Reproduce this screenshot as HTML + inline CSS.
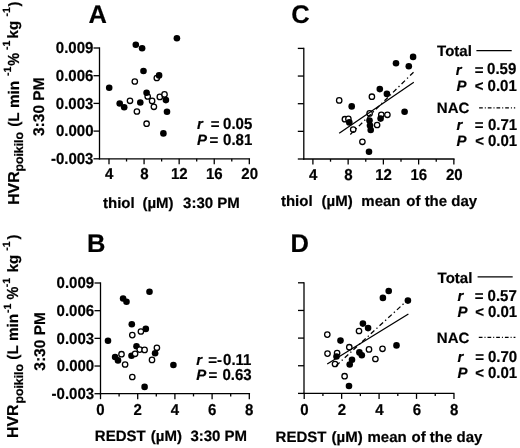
<!DOCTYPE html>
<html><head><meta charset="utf-8"><style>
html,body{margin:0;padding:0;background:#fff;}
svg{display:block;will-change:transform;}
text{font-family:"Liberation Sans", sans-serif;font-weight:bold;fill:#000;text-rendering:geometricPrecision;stroke:#000;stroke-width:0.2px;stroke-linejoin:round;}
</style></head><body>
<svg width="520" height="448" viewBox="0 0 520 448">
<rect width="520" height="448" fill="#fff"/>
<text transform="translate(88.40,23.10) scale(1.0,1)" font-size="25.5">A</text>
<line x1="99.50" y1="47.35" x2="99.50" y2="159.45" stroke="#000" stroke-width="1.3" />
<line x1="93.50" y1="48.00" x2="99.50" y2="48.00" stroke="#000" stroke-width="1.3" />
<text transform="translate(55.85,53.26) scale(0.95,1)" font-size="15.8">0.009</text>
<line x1="93.50" y1="75.70" x2="99.50" y2="75.70" stroke="#000" stroke-width="1.3" />
<text transform="translate(55.85,80.96) scale(0.95,1)" font-size="15.8">0.006</text>
<line x1="93.50" y1="103.40" x2="99.50" y2="103.40" stroke="#000" stroke-width="1.3" />
<text transform="translate(55.85,108.66) scale(0.95,1)" font-size="15.8">0.003</text>
<line x1="93.50" y1="131.10" x2="99.50" y2="131.10" stroke="#000" stroke-width="1.3" />
<text transform="translate(55.95,136.36) scale(0.95,1)" font-size="15.8">0.000</text>
<line x1="93.50" y1="158.80" x2="99.50" y2="158.80" stroke="#000" stroke-width="1.3" />
<text transform="translate(50.91,164.06) scale(0.95,1)" font-size="15.8">-0.003</text>
<line x1="98.85" y1="158.80" x2="250.05" y2="158.80" stroke="#000" stroke-width="1.3" />
<line x1="109.00" y1="158.80" x2="109.00" y2="164.30" stroke="#000" stroke-width="1.3" />
<line x1="126.54" y1="158.80" x2="126.54" y2="161.50" stroke="#000" stroke-width="1.3" />
<line x1="144.08" y1="158.80" x2="144.08" y2="164.30" stroke="#000" stroke-width="1.3" />
<line x1="161.62" y1="158.80" x2="161.62" y2="161.50" stroke="#000" stroke-width="1.3" />
<line x1="179.16" y1="158.80" x2="179.16" y2="164.30" stroke="#000" stroke-width="1.3" />
<line x1="196.70" y1="158.80" x2="196.70" y2="161.50" stroke="#000" stroke-width="1.3" />
<line x1="214.24" y1="158.80" x2="214.24" y2="164.30" stroke="#000" stroke-width="1.3" />
<line x1="231.78" y1="158.80" x2="231.78" y2="161.50" stroke="#000" stroke-width="1.3" />
<line x1="249.32" y1="158.80" x2="249.32" y2="164.30" stroke="#000" stroke-width="1.3" />
<text transform="translate(105.07,179.30) scale(0.95,1)" font-size="15.8">4</text>
<text transform="translate(140.20,179.30) scale(0.95,1)" font-size="15.8">8</text>
<text transform="translate(170.91,179.30) scale(0.95,1)" font-size="15.8">12</text>
<text transform="translate(205.99,179.30) scale(0.95,1)" font-size="15.8">16</text>
<text transform="translate(241.36,179.30) scale(0.95,1)" font-size="15.8">20</text>
<text transform="translate(103.00,207.70) scale(1.0,1)" font-size="15.0">thiol</text>
<text transform="translate(142.40,207.70) scale(1.0,1)" font-size="15.0">(µM)</text>
<text transform="translate(183.10,207.70) scale(1.0,1)" font-size="15.0">3:30&#160;PM</text>
<text transform="translate(197.10,129.20) scale(1.0,1)" font-size="15.0" font-style="italic">r</text>
<text transform="translate(210.70,129.20) scale(1.0,1)" font-size="15.0">=</text>
<text transform="translate(223.03,129.20) scale(0.95,1)" font-size="15.8">0.05</text>
<text transform="translate(197.10,145.40) scale(1.0,1)" font-size="15.0" font-style="italic">P</text>
<text transform="translate(209.60,145.40) scale(1.0,1)" font-size="15.0">=</text>
<text transform="translate(223.03,145.40) scale(0.95,1)" font-size="15.8">0.81</text>
<circle cx="156.8" cy="78" r="2.7" fill="#fff" stroke="#000" stroke-width="1.3"/><circle cx="134.8" cy="81.5" r="2.7" fill="#fff" stroke="#000" stroke-width="1.3"/><circle cx="147.7" cy="96.5" r="2.7" fill="#fff" stroke="#000" stroke-width="1.3"/><circle cx="130" cy="100.8" r="2.7" fill="#fff" stroke="#000" stroke-width="1.3"/><circle cx="136.9" cy="111.5" r="2.7" fill="#fff" stroke="#000" stroke-width="1.3"/><circle cx="152.1" cy="100.9" r="2.7" fill="#fff" stroke="#000" stroke-width="1.3"/><circle cx="153.9" cy="106.8" r="2.7" fill="#fff" stroke="#000" stroke-width="1.3"/><circle cx="159.8" cy="96.9" r="2.7" fill="#fff" stroke="#000" stroke-width="1.3"/><circle cx="164.5" cy="94.4" r="2.7" fill="#fff" stroke="#000" stroke-width="1.3"/><circle cx="146.6" cy="123.7" r="2.7" fill="#fff" stroke="#000" stroke-width="1.3"/><circle cx="176.9" cy="38.3" r="3.3" fill="#000"/><circle cx="135.8" cy="44.8" r="3.3" fill="#000"/><circle cx="142.1" cy="48.3" r="3.3" fill="#000"/><circle cx="143.5" cy="71" r="3.3" fill="#000"/><circle cx="159.1" cy="75.4" r="3.3" fill="#000"/><circle cx="109.2" cy="87.7" r="3.3" fill="#000"/><circle cx="146.6" cy="92.8" r="3.3" fill="#000"/><circle cx="119.7" cy="103.5" r="3.3" fill="#000"/><circle cx="124.2" cy="107.2" r="3.3" fill="#000"/><circle cx="140.3" cy="102.5" r="3.3" fill="#000"/><circle cx="165.9" cy="100.1" r="3.3" fill="#000"/><circle cx="167" cy="111.8" r="3.3" fill="#000"/><circle cx="163.4" cy="133.4" r="3.3" fill="#000"/>
<text transform="translate(87.10,252.10) scale(1.0,1)" font-size="25.5">B</text>
<line x1="100.50" y1="282.35" x2="100.50" y2="394.35" stroke="#000" stroke-width="1.3" />
<line x1="94.50" y1="283.00" x2="100.50" y2="283.00" stroke="#000" stroke-width="1.3" />
<text transform="translate(56.55,288.26) scale(0.95,1)" font-size="15.8">0.009</text>
<line x1="94.50" y1="310.68" x2="100.50" y2="310.68" stroke="#000" stroke-width="1.3" />
<text transform="translate(56.55,315.93) scale(0.95,1)" font-size="15.8">0.006</text>
<line x1="94.50" y1="338.35" x2="100.50" y2="338.35" stroke="#000" stroke-width="1.3" />
<text transform="translate(56.55,343.61) scale(0.95,1)" font-size="15.8">0.003</text>
<line x1="94.50" y1="366.02" x2="100.50" y2="366.02" stroke="#000" stroke-width="1.3" />
<text transform="translate(56.64,371.28) scale(0.95,1)" font-size="15.8">0.000</text>
<line x1="94.50" y1="393.70" x2="100.50" y2="393.70" stroke="#000" stroke-width="1.3" />
<text transform="translate(51.61,398.96) scale(0.95,1)" font-size="15.8">-0.003</text>
<line x1="99.85" y1="393.70" x2="250.05" y2="393.70" stroke="#000" stroke-width="1.3" />
<line x1="100.50" y1="393.70" x2="100.50" y2="399.20" stroke="#000" stroke-width="1.3" />
<line x1="119.10" y1="393.70" x2="119.10" y2="396.40" stroke="#000" stroke-width="1.3" />
<line x1="137.70" y1="393.70" x2="137.70" y2="399.20" stroke="#000" stroke-width="1.3" />
<line x1="156.30" y1="393.70" x2="156.30" y2="396.40" stroke="#000" stroke-width="1.3" />
<line x1="174.90" y1="393.70" x2="174.90" y2="399.20" stroke="#000" stroke-width="1.3" />
<line x1="193.50" y1="393.70" x2="193.50" y2="396.40" stroke="#000" stroke-width="1.3" />
<line x1="212.10" y1="393.70" x2="212.10" y2="399.20" stroke="#000" stroke-width="1.3" />
<line x1="230.70" y1="393.70" x2="230.70" y2="396.40" stroke="#000" stroke-width="1.3" />
<line x1="249.30" y1="393.70" x2="249.30" y2="399.20" stroke="#000" stroke-width="1.3" />
<text transform="translate(96.37,415.30) scale(0.95,1)" font-size="15.8">0</text>
<text transform="translate(133.57,415.30) scale(0.95,1)" font-size="15.8">2</text>
<text transform="translate(170.67,415.30) scale(0.95,1)" font-size="15.8">4</text>
<text transform="translate(207.92,415.30) scale(0.95,1)" font-size="15.8">6</text>
<text transform="translate(245.12,415.30) scale(0.95,1)" font-size="15.8">8</text>
<text transform="translate(94.80,441.20) scale(1.0,1)" font-size="15.0">REDST</text>
<text transform="translate(150.80,441.20) scale(1.0,1)" font-size="15.0">(µM)</text>
<text transform="translate(190.40,441.20) scale(1.0,1)" font-size="15.0">3:30&#160;PM</text>
<text transform="translate(196.20,364.90) scale(1.0,1)" font-size="15.0" font-style="italic">r</text>
<text transform="translate(208.20,364.90) scale(1.0,1)" font-size="15.0">=</text>
<text transform="translate(217.00,364.90) scale(1.0,1)" font-size="15.0">-</text>
<text transform="translate(223.03,364.90) scale(0.95,1)" font-size="15.8">0.11</text>
<text transform="translate(196.20,380.40) scale(1.0,1)" font-size="15.0" font-style="italic">P</text>
<text transform="translate(208.60,380.40) scale(1.0,1)" font-size="15.0">=</text>
<text transform="translate(222.43,380.40) scale(0.95,1)" font-size="15.8">0.63</text>
<circle cx="149.5" cy="291.8" r="3.3" fill="#000"/><circle cx="123.1" cy="298.5" r="3.3" fill="#000"/><circle cx="126.5" cy="301.8" r="3.3" fill="#000"/><circle cx="131.8" cy="324.3" r="3.3" fill="#000"/><circle cx="145.8" cy="328.9" r="3.3" fill="#000"/><circle cx="108" cy="340.8" r="3.3" fill="#000"/><circle cx="136.5" cy="346.2" r="3.3" fill="#000"/><circle cx="155.1" cy="353.2" r="3.3" fill="#000"/><circle cx="131.5" cy="355.8" r="3.3" fill="#000"/><circle cx="115.1" cy="357" r="3.3" fill="#000"/><circle cx="118" cy="360.4" r="3.3" fill="#000"/><circle cx="173.4" cy="365" r="3.3" fill="#000"/><circle cx="144.6" cy="386.9" r="3.3" fill="#000"/><circle cx="140.9" cy="331.5" r="2.7" fill="#fff" stroke="#000" stroke-width="1.3"/><circle cx="132.3" cy="335.1" r="2.7" fill="#fff" stroke="#000" stroke-width="1.3"/><circle cx="139.7" cy="349.6" r="2.7" fill="#fff" stroke="#000" stroke-width="1.3"/><circle cx="144.6" cy="349.9" r="2.7" fill="#fff" stroke="#000" stroke-width="1.3"/><circle cx="156.9" cy="347.8" r="2.7" fill="#fff" stroke="#000" stroke-width="1.3"/><circle cx="135.1" cy="353.8" r="2.7" fill="#fff" stroke="#000" stroke-width="1.3"/><circle cx="121.5" cy="354.2" r="2.7" fill="#fff" stroke="#000" stroke-width="1.3"/><circle cx="125.1" cy="364.5" r="2.7" fill="#fff" stroke="#000" stroke-width="1.3"/><circle cx="152" cy="359.9" r="2.7" fill="#fff" stroke="#000" stroke-width="1.3"/><circle cx="132.3" cy="377" r="2.7" fill="#fff" stroke="#000" stroke-width="1.3"/>
<text transform="translate(291.30,23.10) scale(1.0,1)" font-size="25.5">C</text>
<line x1="303.80" y1="47.75" x2="303.80" y2="159.65" stroke="#000" stroke-width="1.3" />
<line x1="297.80" y1="48.40" x2="303.80" y2="48.40" stroke="#000" stroke-width="1.3" />
<line x1="297.80" y1="76.05" x2="303.80" y2="76.05" stroke="#000" stroke-width="1.3" />
<line x1="297.80" y1="103.70" x2="303.80" y2="103.70" stroke="#000" stroke-width="1.3" />
<line x1="297.80" y1="131.35" x2="303.80" y2="131.35" stroke="#000" stroke-width="1.3" />
<line x1="297.80" y1="159.00" x2="303.80" y2="159.00" stroke="#000" stroke-width="1.3" />
<line x1="303.15" y1="159.00" x2="454.55" y2="159.00" stroke="#000" stroke-width="1.3" />
<line x1="312.90" y1="159.00" x2="312.90" y2="164.50" stroke="#000" stroke-width="1.3" />
<line x1="330.52" y1="159.00" x2="330.52" y2="161.70" stroke="#000" stroke-width="1.3" />
<line x1="348.14" y1="159.00" x2="348.14" y2="164.50" stroke="#000" stroke-width="1.3" />
<line x1="365.76" y1="159.00" x2="365.76" y2="161.70" stroke="#000" stroke-width="1.3" />
<line x1="383.38" y1="159.00" x2="383.38" y2="164.50" stroke="#000" stroke-width="1.3" />
<line x1="401.00" y1="159.00" x2="401.00" y2="161.70" stroke="#000" stroke-width="1.3" />
<line x1="418.62" y1="159.00" x2="418.62" y2="164.50" stroke="#000" stroke-width="1.3" />
<line x1="436.24" y1="159.00" x2="436.24" y2="161.70" stroke="#000" stroke-width="1.3" />
<line x1="453.86" y1="159.00" x2="453.86" y2="164.50" stroke="#000" stroke-width="1.3" />
<text transform="translate(309.07,179.60) scale(0.95,1)" font-size="15.8">4</text>
<text transform="translate(344.36,179.60) scale(0.95,1)" font-size="15.8">8</text>
<text transform="translate(375.23,179.60) scale(0.95,1)" font-size="15.8">12</text>
<text transform="translate(410.47,179.60) scale(0.95,1)" font-size="15.8">16</text>
<text transform="translate(446.00,179.60) scale(0.95,1)" font-size="15.8">20</text>
<text transform="translate(280.90,206.30) scale(1.0,1)" font-size="15.0">thiol</text>
<text transform="translate(321.50,206.30) scale(1.0,1)" font-size="15.0">(µM)</text>
<text transform="translate(361.30,206.30) scale(1.0,1)" font-size="15.0">mean</text>
<text transform="translate(406.30,206.30) scale(1.0,1)" font-size="15.0">of&#160;the&#160;day</text>
<circle cx="371.9" cy="96.7" r="2.7" fill="#fff" stroke="#000" stroke-width="1.3"/><circle cx="339.2" cy="100.4" r="2.7" fill="#fff" stroke="#000" stroke-width="1.3"/><circle cx="369.6" cy="113.4" r="2.7" fill="#fff" stroke="#000" stroke-width="1.3"/><circle cx="381.3" cy="114.8" r="2.7" fill="#fff" stroke="#000" stroke-width="1.3"/><circle cx="387.4" cy="114.8" r="2.7" fill="#fff" stroke="#000" stroke-width="1.3"/><circle cx="344.9" cy="119.2" r="2.7" fill="#fff" stroke="#000" stroke-width="1.3"/><circle cx="348.4" cy="118.9" r="2.7" fill="#fff" stroke="#000" stroke-width="1.3"/><circle cx="377.1" cy="125" r="2.7" fill="#fff" stroke="#000" stroke-width="1.3"/><circle cx="353.2" cy="129.6" r="2.7" fill="#fff" stroke="#000" stroke-width="1.3"/><circle cx="362.4" cy="141.8" r="2.7" fill="#fff" stroke="#000" stroke-width="1.3"/><circle cx="413.1" cy="56.9" r="3.3" fill="#000"/><circle cx="396" cy="63.3" r="3.3" fill="#000"/><circle cx="408.8" cy="66.3" r="3.3" fill="#000"/><circle cx="379.8" cy="89.1" r="3.3" fill="#000"/><circle cx="386.9" cy="93.9" r="3.3" fill="#000"/><circle cx="351.7" cy="106.4" r="3.3" fill="#000"/><circle cx="404.6" cy="111.7" r="3.3" fill="#000"/><circle cx="380.6" cy="118.6" r="3.3" fill="#000"/><circle cx="349.3" cy="122.4" r="3.3" fill="#000"/><circle cx="369.5" cy="120.6" r="3.3" fill="#000"/><circle cx="370" cy="125.6" r="3.3" fill="#000"/><circle cx="370.7" cy="130" r="3.3" fill="#000"/><circle cx="369" cy="151.7" r="3.3" fill="#000"/>
<line x1="339.20" y1="133.20" x2="413.80" y2="82.30" stroke="#000" stroke-width="1.3" />
<line x1="349.30" y1="135.50" x2="413.80" y2="71.90" stroke="#000" stroke-width="1.3" stroke-dasharray="4.8 2.95 1.3 2.95" stroke-dashoffset="-1.4"/>
<text transform="translate(437.10,56.10) scale(1.0,1)" font-size="15.0">Total</text>
<line x1="476.40" y1="50.70" x2="511.70" y2="50.70" stroke="#000" stroke-width="1.2" />
<text transform="translate(455.70,74.60) scale(1.0,1)" font-size="15.0" font-style="italic">r</text>
<text transform="translate(474.70,74.60) scale(1.0,1)" font-size="15.0">=</text>
<text transform="translate(487.03,74.30) scale(0.95,1)" font-size="15.8">0.59</text>
<text transform="translate(456.50,90.70) scale(1.0,1)" font-size="15.0" font-style="italic">P</text>
<text transform="translate(474.70,90.70) scale(1.0,1)" font-size="15.0">&lt;</text>
<text transform="translate(487.53,90.70) scale(0.95,1)" font-size="15.8">0.01</text>
<text transform="translate(436.80,112.50) scale(1.0,1)" font-size="15.0">NAC</text>
<line x1="479.10" y1="107.90" x2="515.20" y2="107.90" stroke="#000" stroke-width="1.3" stroke-dasharray="3.7 2.0 1 2.0"/>
<text transform="translate(456.50,129.60) scale(1.0,1)" font-size="15.0" font-style="italic">r</text>
<text transform="translate(474.70,129.60) scale(1.0,1)" font-size="15.0">=</text>
<text transform="translate(487.93,129.60) scale(0.95,1)" font-size="15.8">0.71</text>
<text transform="translate(456.50,145.50) scale(1.0,1)" font-size="15.0" font-style="italic">P</text>
<text transform="translate(475.20,145.50) scale(1.0,1)" font-size="15.0">&lt;</text>
<text transform="translate(487.93,145.50) scale(0.95,1)" font-size="15.8">0.01</text>
<text transform="translate(290.40,252.10) scale(1.0,1)" font-size="25.5">D</text>
<line x1="304.00" y1="282.15" x2="304.00" y2="394.05" stroke="#000" stroke-width="1.3" />
<line x1="298.00" y1="282.80" x2="304.00" y2="282.80" stroke="#000" stroke-width="1.3" />
<line x1="298.00" y1="310.45" x2="304.00" y2="310.45" stroke="#000" stroke-width="1.3" />
<line x1="298.00" y1="338.10" x2="304.00" y2="338.10" stroke="#000" stroke-width="1.3" />
<line x1="298.00" y1="365.75" x2="304.00" y2="365.75" stroke="#000" stroke-width="1.3" />
<line x1="298.00" y1="393.40" x2="304.00" y2="393.40" stroke="#000" stroke-width="1.3" />
<line x1="303.35" y1="393.40" x2="454.45" y2="393.40" stroke="#000" stroke-width="1.3" />
<line x1="304.20" y1="393.40" x2="304.20" y2="398.90" stroke="#000" stroke-width="1.3" />
<line x1="322.92" y1="393.40" x2="322.92" y2="396.10" stroke="#000" stroke-width="1.3" />
<line x1="341.64" y1="393.40" x2="341.64" y2="398.90" stroke="#000" stroke-width="1.3" />
<line x1="360.36" y1="393.40" x2="360.36" y2="396.10" stroke="#000" stroke-width="1.3" />
<line x1="379.08" y1="393.40" x2="379.08" y2="398.90" stroke="#000" stroke-width="1.3" />
<line x1="397.80" y1="393.40" x2="397.80" y2="396.10" stroke="#000" stroke-width="1.3" />
<line x1="416.52" y1="393.40" x2="416.52" y2="398.90" stroke="#000" stroke-width="1.3" />
<line x1="435.24" y1="393.40" x2="435.24" y2="396.10" stroke="#000" stroke-width="1.3" />
<line x1="453.96" y1="393.40" x2="453.96" y2="398.90" stroke="#000" stroke-width="1.3" />
<text transform="translate(300.37,414.60) scale(0.95,1)" font-size="15.8">0</text>
<text transform="translate(337.81,414.60) scale(0.95,1)" font-size="15.8">2</text>
<text transform="translate(375.15,414.60) scale(0.95,1)" font-size="15.8">4</text>
<text transform="translate(412.64,414.60) scale(0.95,1)" font-size="15.8">6</text>
<text transform="translate(450.08,414.60) scale(0.95,1)" font-size="15.8">8</text>
<text transform="translate(275.60,442.40) scale(1.0,1)" font-size="15.0">REDST</text>
<text transform="translate(331.50,442.40) scale(1.0,1)" font-size="15.0">(µM)</text>
<text transform="translate(367.50,442.40) scale(1.0,1)" font-size="15.0">mean</text>
<text transform="translate(411.50,442.40) scale(1.0,1)" font-size="15.0">of&#160;the&#160;day</text>
<circle cx="359" cy="331" r="2.7" fill="#fff" stroke="#000" stroke-width="1.3"/><circle cx="327.3" cy="334.6" r="2.7" fill="#fff" stroke="#000" stroke-width="1.3"/><circle cx="349.3" cy="347.2" r="2.7" fill="#fff" stroke="#000" stroke-width="1.3"/><circle cx="327.5" cy="353.6" r="2.7" fill="#fff" stroke="#000" stroke-width="1.3"/><circle cx="337.1" cy="353" r="2.7" fill="#fff" stroke="#000" stroke-width="1.3"/><circle cx="335" cy="364" r="2.7" fill="#fff" stroke="#000" stroke-width="1.3"/><circle cx="369" cy="349.4" r="2.7" fill="#fff" stroke="#000" stroke-width="1.3"/><circle cx="382.5" cy="348.8" r="2.7" fill="#fff" stroke="#000" stroke-width="1.3"/><circle cx="375.4" cy="359" r="2.7" fill="#fff" stroke="#000" stroke-width="1.3"/><circle cx="344.6" cy="376.2" r="2.7" fill="#fff" stroke="#000" stroke-width="1.3"/><circle cx="388.7" cy="291" r="3.3" fill="#000"/><circle cx="382.9" cy="297.9" r="3.3" fill="#000"/><circle cx="407.9" cy="300.6" r="3.3" fill="#000"/><circle cx="362.9" cy="323.6" r="3.3" fill="#000"/><circle cx="368.1" cy="328.1" r="3.3" fill="#000"/><circle cx="340.5" cy="340.6" r="3.3" fill="#000"/><circle cx="336.5" cy="356.5" r="3.3" fill="#000"/><circle cx="359.4" cy="352.4" r="3.3" fill="#000"/><circle cx="361.8" cy="355.3" r="3.3" fill="#000"/><circle cx="396.5" cy="345.4" r="3.3" fill="#000"/><circle cx="352" cy="359.7" r="3.3" fill="#000"/><circle cx="349.7" cy="364.5" r="3.3" fill="#000"/><circle cx="349" cy="386" r="3.3" fill="#000"/>
<line x1="327.20" y1="364.00" x2="408.40" y2="314.00" stroke="#000" stroke-width="1.3" />
<line x1="336.00" y1="365.80" x2="405.50" y2="302.00" stroke="#000" stroke-width="1.3" stroke-dasharray="4.8 2.85 1.3 2.85" stroke-dashoffset="-0.1"/>
<text transform="translate(437.60,282.90) scale(1.0,1)" font-size="15.0">Total</text>
<line x1="477.60" y1="276.90" x2="512.70" y2="276.90" stroke="#000" stroke-width="1.2" />
<text transform="translate(457.40,300.50) scale(1.0,1)" font-size="15.0" font-style="italic">r</text>
<text transform="translate(474.70,300.50) scale(1.0,1)" font-size="15.0">=</text>
<text transform="translate(487.53,300.50) scale(0.95,1)" font-size="15.8">0.57</text>
<text transform="translate(457.40,316.70) scale(1.0,1)" font-size="15.0" font-style="italic">P</text>
<text transform="translate(475.20,316.70) scale(1.0,1)" font-size="15.0">&lt;</text>
<text transform="translate(487.93,316.70) scale(0.95,1)" font-size="15.8">0.01</text>
<text transform="translate(436.80,342.70) scale(1.0,1)" font-size="15.0">NAC</text>
<line x1="478.80" y1="337.30" x2="515.40" y2="337.30" stroke="#000" stroke-width="1.3" stroke-dasharray="3.7 2.0 1 2.0"/>
<text transform="translate(457.40,361.50) scale(1.0,1)" font-size="15.0" font-style="italic">r</text>
<text transform="translate(475.20,361.50) scale(1.0,1)" font-size="15.0">=</text>
<text transform="translate(487.93,361.50) scale(0.95,1)" font-size="15.8">0.70</text>
<text transform="translate(457.40,377.80) scale(1.0,1)" font-size="15.0" font-style="italic">P</text>
<text transform="translate(475.20,377.80) scale(1.0,1)" font-size="15.0">&lt;</text>
<text transform="translate(487.93,377.80) scale(0.95,1)" font-size="15.8">0.01</text>
<text transform="translate(18.60,204.80) rotate(-90) scale(1.0,1)" font-size="15.8">HVR</text>
<text transform="translate(22.90,171.60) rotate(-90) scale(1.0,1)" font-size="12.3">poikilo</text>
<text transform="translate(18.60,126.80) rotate(-90) scale(1.0,1)" font-size="15.3">(L&#160;min</text>
<text transform="translate(10.80,76.10) rotate(-90) scale(1.0,1)" font-size="10.5">-1</text>
<text transform="translate(18.60,65.76) rotate(-90) scale(0.9,1)" font-size="16">%</text>
<text transform="translate(10.40,49.90) rotate(-90) scale(1.0,1)" font-size="10.5">-1</text>
<text transform="translate(18.20,38.40) rotate(-90) scale(1.0,1)" font-size="15">kg</text>
<text transform="translate(10.00,16.60) rotate(-90) scale(1.0,1)" font-size="10.5">-1</text>
<text transform="translate(18.60,6.60) rotate(-90) scale(1.0,1)" font-size="15">)</text>
<text transform="translate(43.60,136.00) rotate(-90) scale(1.0,1)" font-size="15.5">3:30&#160;PM</text>
<text transform="translate(18.40,438.00) rotate(-90) scale(1.0,1)" font-size="15.8">HVR</text>
<text transform="translate(22.70,403.60) rotate(-90) scale(1.0,1)" font-size="12.3">poikilo</text>
<text transform="translate(18.40,359.70) rotate(-90) scale(1.0,1)" font-size="15.3">(L&#160;min</text>
<text transform="translate(10.70,312.90) rotate(-90) scale(1.0,1)" font-size="10.5">-1</text>
<text transform="translate(17.90,299.56) rotate(-90) scale(0.9,1)" font-size="16">%</text>
<text transform="translate(10.20,287.20) rotate(-90) scale(1.0,1)" font-size="10.5">-1</text>
<text transform="translate(17.60,272.30) rotate(-90) scale(1.0,1)" font-size="15">kg</text>
<text transform="translate(10.00,250.80) rotate(-90) scale(1.0,1)" font-size="10.5">-1</text>
<text transform="translate(18.40,239.60) rotate(-90) scale(1.0,1)" font-size="15">)</text>
<text transform="translate(45.20,370.70) rotate(-90) scale(1.0,1)" font-size="15.5">3:30&#160;PM</text>
</svg>
</body></html>
